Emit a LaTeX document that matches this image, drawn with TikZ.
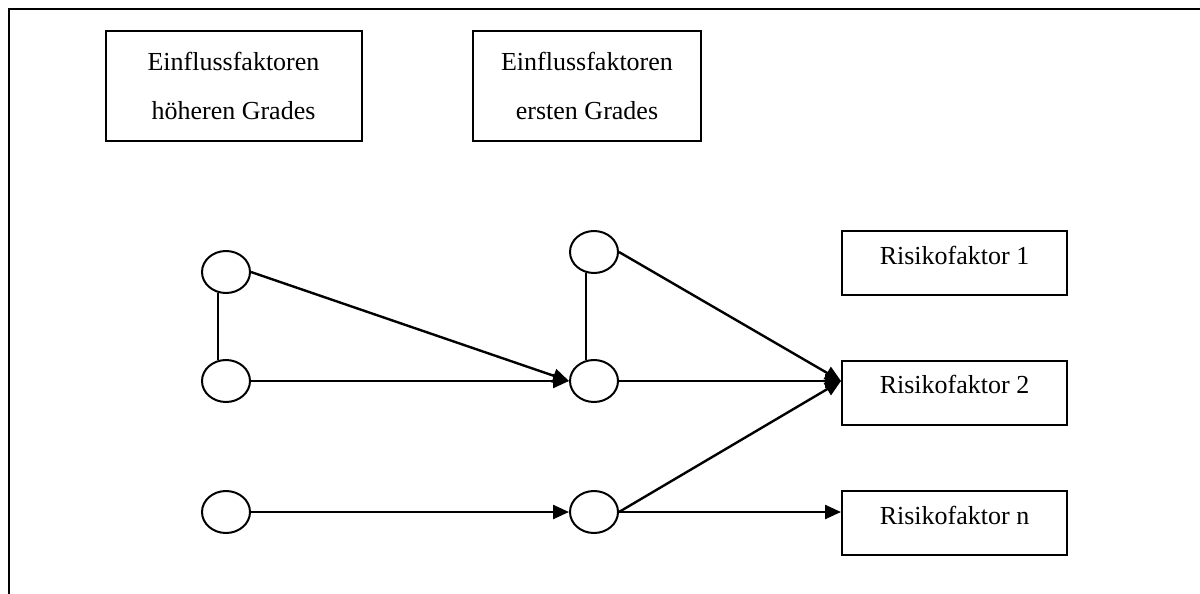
\documentclass[tikz,border=0pt]{standalone}
\usepackage{fontspec}
\setmainfont{Liberation Serif}
\usetikzlibrary{shapes.geometric, arrows.meta, positioning}

\tikzset{
	kasten/.style={draw, line width=1pt, inner sep=0pt, align=center, font=\fontsize{13pt}{24.5pt}\selectfont},
	risiko/.style={kasten, minimum width=112.5pt, minimum height=32pt, text height=8pt, text depth=7pt},
	kreis/.style={draw, ellipse, line width=1pt, minimum width=24pt, minimum height=21pt, inner sep=0pt},
	linie/.style={line width=1pt},
	pfeil/.style={line width=1.2pt, -{Triangle[length=8pt, width=7pt]}}
}

\begin{document}
\begin{tikzpicture}[x=0.5pt, y=-0.5pt]
	\useasboundingbox (0,0) rectangle (1200,594);
	\draw[line width=1pt] (9,594) -- (9,9) -- (1200,9);

	\node[kasten, minimum width=128pt, minimum height=55pt] (hoeher) at (233.5,86) {Einflussfaktoren\\höheren Grades};
	\node[kasten, minimum width=114pt, minimum height=55pt] (erster) at (587,86) {Einflussfaktoren\\ersten Grades};

	\node[risiko] (r1) at (954.5,263) {Risikofaktor 1};
	\node[risiko] (r2) at (954.5,392.5) {Risikofaktor 2};
	\node[risiko] (rn) at (954.5,523) {Risikofaktor n};

	\foreach \name/\y in {1/272, 2/381, 3/512}
		\node[kreis] (l\name) at (226,\y) {};
	\foreach \name/\y in {1/252, 2/381, 3/512}
		\node[kreis] (m\name) at (594,\y) {};

	\draw[linie] (l1.250) -- (l2.110);
	\draw[linie] (m1.250) -- (m2.110);

	\draw[pfeil] (l1.east) -- (m2.west);
	\draw[pfeil] (l2.east) -- (m2.west);
	\draw[pfeil] (l3.east) -- (m3.west);
	\foreach \von in {m1, m2, m3}
		\draw[pfeil] (\von.east) -- (m2 -| r2.west);
	\draw[pfeil] (m3.east) -- (m3 -| rn.west);
\end{tikzpicture}
\end{document}
